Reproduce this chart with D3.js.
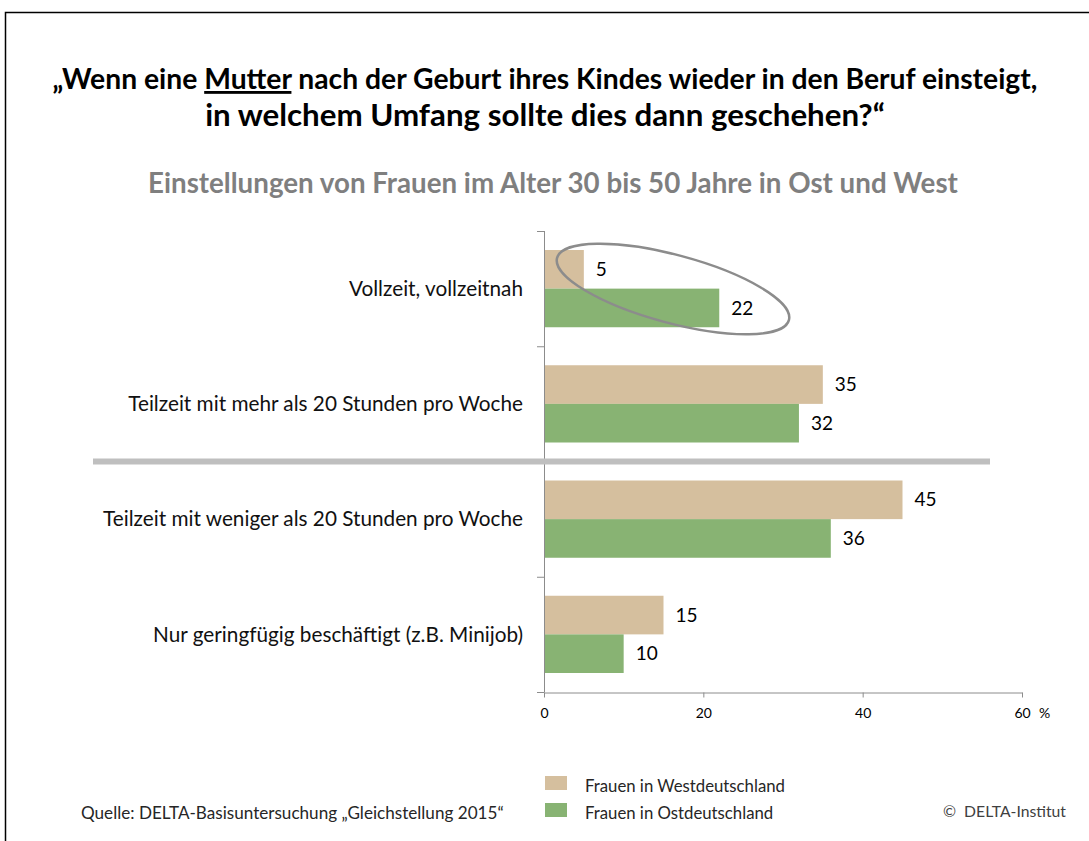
<!DOCTYPE html>
<html>
<head>
<meta charset="utf-8">
<script src="https://cdn.jsdelivr.net/npm/d3@7"></script>
<style>
  body { margin: 0; background: #fff; }
  text { font-family: Lato, "Open Sans", sans-serif; }
</style>
</head>
<body>
<svg id="chart" width="1089" height="841"></svg>
<script>
"use strict";

// data
var categories = [
  "Vollzeit, vollzeitnah",
  "Teilzeit mit mehr als 20 Stunden pro Woche",
  "Teilzeit mit weniger als 20 Stunden pro Woche",
  "Nur geringfügig beschäftigt (z.B. Minijob)"
]
var series = ["Frauen in Westdeutschland", "Frauen in Ostdeutschland"]
var west = [5, 35, 45, 15]
var east = [22, 32, 36, 10]
var xTicks = [0, 20, 40, 60]

var colors = ["#d5bf9e", "#88b373"]

var svg = d3.select("#chart")

// scale font so a text spans the wanted width, returns the factor
function fitWidth(sel, target) {
  var size = parseFloat(sel.attr("font-size"))
  var w = sel.node().getComputedTextLength()
  sel.attr("font-size", (size * target / w).toFixed(2))
  return target / w
}

// frame
svg.append("path")
  .attr("d", "M5.5,845 V12.5 H1095")
  .attr("fill", "none")
  .attr("stroke", "#000")
  .attr("stroke-width", 1.5)

// title
var t1 = svg.append("text")
  .attr("x", 545).attr("y", 89)
  .attr("text-anchor", "middle")
  .attr("font-size", 24).attr("font-weight", "bold")
t1.append("tspan").text("„Wenn eine ")
t1.append("tspan").style("text-decoration", "underline").text("Mutter")
t1.append("tspan").text(" nach der Geburt ihres Kindes wieder in den Beruf einsteigt,")
fitWidth(t1, 985)

var t2 = svg.append("text")
  .attr("x", 545).attr("y", 126)
  .attr("text-anchor", "middle")
  .attr("font-size", 24).attr("font-weight", "bold")
  .text("in welchem Umfang sollte dies dann geschehen?“")
fitWidth(t2, 680)

var sub = svg.append("text")
  .attr("x", 553).attr("y", 193)
  .attr("text-anchor", "middle")
  .attr("font-size", 22).attr("font-weight", "bold")
  .attr("fill", "#7f7f7f")
  .text("Einstellungen von Frauen im Alter 30 bis 50 Jahre in Ost und West")
fitWidth(sub, 810)

// scales
var x = d3.scaleLinear().domain([0, 60]).range([544, 1022])
var y = d3.scaleBand().domain(categories).range([231, 692])
var yInner = d3.scaleBand().domain(series).range([19, y.bandwidth() - 19])

var rows = categories.map(function(c, i) {
  return { name: c, values: [west[i], east[i]] }
})

// bars
var groups = svg.append("g").selectAll("g")
  .data(rows)
  .enter()
  .append("g")
    .attr("transform", function(d) { return "translate(0," + y(d.name) + ")" })

groups.selectAll("rect")
  .data(function(d) { return d.values })
  .enter()
  .append("rect")
    .attr("x", x(0))
    .attr("y", function(d, i) { return yInner(series[i]) })
    .attr("width", function(d) { return x(d) - x(0) })
    .attr("height", yInner.bandwidth())
    .attr("fill", function(d, i) { return colors[i] })

groups.selectAll("text.val")
  .data(function(d) { return d.values })
  .enter()
  .append("text")
    .attr("class", "val")
    .attr("x", function(d) { return x(d) + 12 })
    .attr("y", function(d, i) { return yInner(series[i]) + yInner.bandwidth() / 2 })
    .attr("dy", "0.35em")
    .attr("font-size", 19)
    .attr("fill", "#000")
    .text(function(d) { return d })

// category labels, sized by the longest one
var catLabels = svg.append("g").selectAll("text")
  .data(categories)
  .enter()
  .append("text")
    .attr("x", 523)
    .attr("y", function(d) { return y(d) + y.bandwidth() / 2 })
    .attr("dy", "0.35em")
    .attr("text-anchor", "end")
    .attr("font-size", 17)
    .attr("fill", "#111")
    .text(function(d) { return d })
var k = fitWidth(d3.select(catLabels.nodes()[2]), 420)
catLabels.attr("font-size", (17 * k).toFixed(2))

// category axis
var yAxis = svg.append("g")
yAxis.append("line")
  .attr("x1", x(0) + 0.5).attr("x2", x(0) + 0.5)
  .attr("y1", y.range()[0]).attr("y2", y.range()[1])
  .attr("stroke", "#8c8c8c")
yAxis.selectAll("line.tick")
  .data(categories.concat([null]))
  .enter()
  .append("line")
    .attr("class", "tick")
    .attr("x1", x(0) - 7).attr("x2", x(0) + 0.5)
    .attr("y1", function(d) { return d === null ? y.range()[1] + 0.5 : y(d) + 0.5 })
    .attr("y2", function(d) { return d === null ? y.range()[1] + 0.5 : y(d) + 0.5 })
    .attr("stroke", "#8c8c8c")

// value axis
var xAxis = svg.append("g")
  .attr("transform", "translate(0," + (y.range()[1] + 0.5) + ")")
  .call(d3.axisBottom(x).tickValues(xTicks).tickSize(5).tickSizeOuter(0))
xAxis.select(".domain").attr("stroke", "#8c8c8c")
xAxis.selectAll(".tick line").attr("stroke", "#8c8c8c")
xAxis.selectAll(".tick text")
  .attr("font-family", "Lato, 'Open Sans', sans-serif")
  .attr("font-size", 14)
  .attr("fill", "#000")
  .attr("y", 16)
  .attr("dy", "0.71em")
svg.append("text")
  .attr("x", x(60) + 17).attr("y", y.range()[1] + 16.5)
  .attr("dy", "0.71em")
  .attr("font-size", 14)
  .text("%")

// separator between the two groups
svg.append("line")
  .attr("x1", 93).attr("x2", 990)
  .attr("y1", y(categories[2])).attr("y2", y(categories[2]))
  .attr("stroke", "#bfbfbf")
  .attr("stroke-width", 6)

// ellipse around the full time values
svg.append("ellipse")
  .attr("cx", 0).attr("cy", 0)
  .attr("rx", 120).attr("ry", 34)
  .attr("transform", "translate(673," + (y(categories[0]) + 58) + ") rotate(15)")
  .attr("fill", "none")
  .attr("stroke", "#8c8c8c")
  .attr("stroke-width", 2.5)

// legend
var legend = svg.append("g").selectAll("g")
  .data(series)
  .enter()
  .append("g")
    .attr("transform", function(d, i) { return "translate(545," + (776 + i * 27) + ")" })
legend.append("rect")
  .attr("width", 22).attr("height", 14)
  .attr("fill", function(d, i) { return colors[i] })
var legText = legend.append("text")
  .attr("x", 40).attr("y", 10)
  .attr("dy", "0.35em")
  .attr("font-size", 14)
  .attr("fill", "#262626")
  .text(function(d) { return d })
var kl = fitWidth(d3.select(legText.nodes()[0]), 200)
legText.attr("font-size", (14 * kl).toFixed(2))

// footer
var src = svg.append("text")
  .attr("x", 81).attr("y", 813)
  .attr("dy", "0.35em")
  .attr("font-size", 14).attr("fill", "#262626")
  .text("Quelle: DELTA-Basisuntersuchung „Gleichstellung 2015“")
fitWidth(src, 423)
var copy = svg.append("text")
  .attr("x", 1066).attr("y", 811)
  .attr("dy", "0.35em")
  .attr("text-anchor", "end")
  .attr("font-size", 14).attr("fill", "#404040")
  .attr("xml:space", "preserve")
  .style("white-space", "pre")
  .text("©  DELTA-Institut")
fitWidth(copy, 123)
</script>
</body>
</html>
